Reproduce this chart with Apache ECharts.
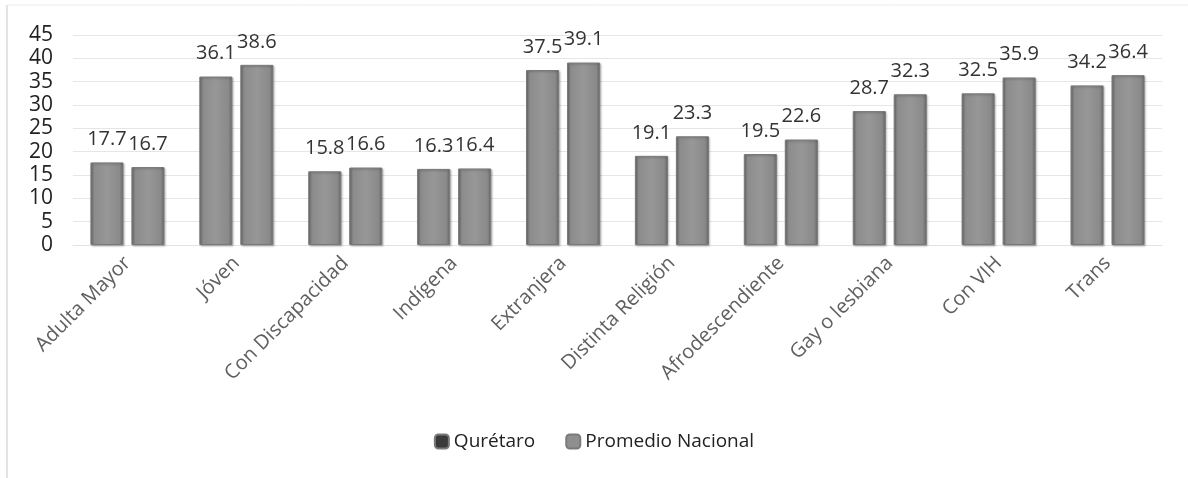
<!DOCTYPE html>
<html><head><meta charset="utf-8">
<script src="https://cdn.jsdelivr.net/npm/echarts@6/dist/echarts.min.js"></script>
<style>html,body{margin:0;padding:0;background:#fff}#c{width:1188px;height:478px}</style>
</head><body><div id="c"></div>
<script>
const categories = ['Adulta Mayor','Jóven','Con Discapacidad','Indígena','Extranjera','Distinta Religión','Afrodescendiente','Gay o lesbiana','Con VIH','Trans'];
const queretaro = [17.7,36.1,15.8,16.3,37.5,19.1,19.5,28.7,32.5,34.2];
const nacional = [16.7,38.6,16.6,16.4,39.1,23.3,22.6,32.3,35.9,36.4];
const yTicks = [0,5,10,15,20,25,30,35,40,45];
const seriesNames = ['Qurétaro','Promedio Nacional'];

const FONT = '"Open Sans", "Noto Sans", sans-serif';
function barColor(){
  return new echarts.graphic.LinearGradient(0,0,1,0,[
    {offset:0,color:'#6e6e6e'},{offset:0.12,color:'#8c8c8c'},{offset:0.5,color:'#979797'},
    {offset:0.88,color:'#8a8a8a'},{offset:1,color:'#666666'}]);
}
function mkSeries(name,data){
  return {
    name, type:'bar', data, barGap:'24%', barCategoryGap:'32%',
    itemStyle:{color:barColor(), borderColor:'#7a7a7a', borderWidth:1, shadowColor:'rgba(0,0,0,0.25)', shadowBlur:2, shadowOffsetX:1, shadowOffsetY:1},
    label:{show:true, position:'top', distance:13, fontSize:20, color:'#333', fontFamily:FONT}
  };
}
const chart = echarts.init(document.getElementById('c'));
chart.setOption({
  animation:false,
  textStyle:{fontFamily:FONT},
  grid:{left:73, right:26, top:35, height:210},
  legend:{bottom:22, left:'center', itemWidth:14, itemHeight:14, itemGap:30,
    textStyle:{fontSize:19, color:'#222', fontFamily:FONT},
    data:[{name:seriesNames[0], itemStyle:{color:'#3a3a3a'}},{name:seriesNames[1], itemStyle:{color:'#8f8f8f'}}]},
  xAxis:{type:'category', data:categories,
    axisLine:{show:true, lineStyle:{color:'#e3e3e3'}}, axisTick:{show:false},
    axisLabel:{rotate:45, fontSize:20, color:'#606060', margin:15, fontFamily:FONT}},
  yAxis:{type:'value', min:0, max:45, interval:5,
    axisLine:{show:false}, axisTick:{show:false},
    splitLine:{lineStyle:{color:'#e6e6e6'}},
    axisLabel:{fontSize:21, color:'#222', margin:20, fontFamily:FONT,
      formatter:v=>yTicks.includes(v)?String(v):''}},
  graphic:[
    {type:'line', shape:{x1:7,y1:5,x2:7,y2:478}, style:{stroke:'#e4e4e4', lineWidth:2}},
    {type:'line', shape:{x1:7,y1:5,x2:1188,y2:5}, style:{stroke:'#ececec', lineWidth:1}}
  ],
  series:[mkSeries(seriesNames[0],queretaro), mkSeries(seriesNames[1],nacional)]
});
</script></body></html>
